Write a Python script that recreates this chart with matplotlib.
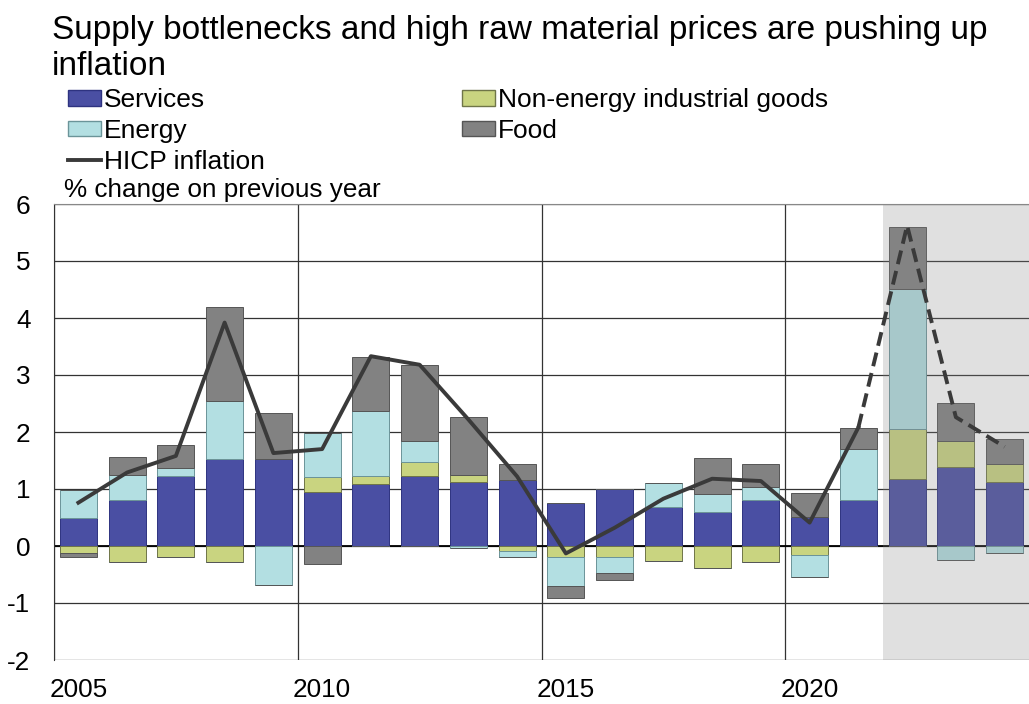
import numpy as np
import matplotlib
matplotlib.use("Agg")
import matplotlib.pyplot as plt
from matplotlib.patches import Patch
from matplotlib.lines import Line2D

plt.rcParams['font.family'] = ['Liberation Sans', 'DejaVu Sans']
plt.rcParams['axes.unicode_minus'] = False

# annual data, % change on previous year
years = np.arange(2005, 2025)
services = [0.49, 0.81, 1.23, 1.52, 1.52, 0.95, 1.09, 1.22, 1.13, 1.16,
            0.75, 1.00, 0.69, 0.59, 0.81, 0.51, 0.80, 1.17, 1.38, 1.13]
neig = [-0.12, -0.28, -0.19, -0.28, 0.00, 0.26, 0.14, 0.25, 0.12, -0.08,
        -0.20, -0.20, -0.26, -0.39, -0.28, -0.15, 0.00, 0.88, 0.47, 0.30]
energy = [0.50, 0.43, 0.14, 1.02, -0.69, 0.78, 1.13, 0.37, -0.04, -0.12,
          -0.50, -0.27, 0.42, 0.32, 0.22, -0.40, 0.90, 2.46, -0.25, -0.13]
food = [-0.07, 0.33, 0.40, 1.66, 0.82, -0.31, 0.96, 1.33, 1.01, 0.27,
        -0.21, -0.12, 0.00, 0.64, 0.41, 0.42, 0.37, 1.09, 0.66, 0.45]
hicp = [0.76, 1.29, 1.58, 3.92, 1.63, 1.70, 3.33, 3.18, 2.22, 1.22,
        -0.13, 0.32, 0.83, 1.18, 1.14, 0.41, 2.08, 5.62, 2.26, 1.74]
tick_years = [2005, 2010, 2015, 2020]
last_actual = 2021
forecast_start = 2022

series = [
    ("Services", services, "#4a4fa3", "#2e3380"),
    ("Non-energy industrial goods", neig, "#c9d480", "#6f7548"),
    ("Energy", energy, "#b3dfe2", "#6b9499"),
    ("Food", food, "#828282", "#555555"),
]

fig = plt.figure(figsize=(10.29, 7.04), dpi=100)
ax = fig.add_axes([54 / 1029, 1 - 660 / 704, 1 - 54 / 1029, (660 - 204) / 704])

x = years + 0.5
pos_base = np.zeros(len(years))
neg_base = np.zeros(len(years))
for name, vals, col, edge in series:
    v = np.array(vals)
    pos = np.where(v > 0, v, 0)
    neg = np.where(v < 0, v, 0)
    ax.bar(x, pos, bottom=pos_base, width=0.76, color=col, edgecolor=edge,
           linewidth=0.7, zorder=2)
    ax.bar(x, neg, bottom=neg_base, width=0.76, color=col, edgecolor=edge,
           linewidth=0.7, zorder=2)
    pos_base += pos
    neg_base += neg

# projection period shading
ax.axvspan(forecast_start, 2025, color="#888888", alpha=0.26, lw=0, zorder=3)

h = np.array(hicp)
solid = years <= last_actual
dash = years >= last_actual
ax.plot(x[solid], h[solid], color="#3a3a3a", lw=2.8, zorder=4)
ax.plot(x[dash], h[dash], color="#3a3a3a", lw=2.8, zorder=4,
        dashes=(3.6, 1.8))

ax.set_xlim(2005, 2025)
ax.set_ylim(-2, 6)
ax.set_yticks(range(-2, 7))
# labels sit in the middle of the year, grid lines at year boundaries
ax.set_xticks([t + 0.5 for t in tick_years])
ax.set_xticklabels([str(t) for t in tick_years])
ax.set_xticks(tick_years, minor=True)
ax.tick_params(axis="both", which="both", length=0, labelsize=18.8)
ax.tick_params(axis="y", pad=17)
ax.tick_params(axis="x", pad=13)
ax.grid(True, axis="y", color="#333333", lw=0.9, zorder=0)
ax.grid(True, axis="x", which="minor", color="#333333", lw=0.9, zorder=0)
ax.set_axisbelow(True)
ax.axhline(0, color="black", lw=1.3, zorder=1)
for s in ["right", "bottom"]:
    ax.spines[s].set_visible(False)
ax.spines["top"].set_color("#888888")
ax.spines["left"].set_color("#333333")

fig.text(52 / 1029, 1 - 15 / 704,
         "Supply bottlenecks and high raw material prices are pushing up\ninflation",
         fontsize=24, va="top", ha="left", linespacing=1.2)
fig.text(64 / 1029, 1 - 190 / 704, "% change on previous year",
         fontsize=18.8, va="center", ha="left")

handles = [
    Patch(facecolor="#4a4fa3", edgecolor="#2e3380", label="Services"),
    Patch(facecolor="#b3dfe2", edgecolor="#6b9499", label="Energy"),
    Line2D([], [], color="#3a3a3a", lw=2.8, label="HICP inflation"),
    Patch(facecolor="#c9d480", edgecolor="#6f7548", label="Non-energy industrial goods"),
    Patch(facecolor="#828282", edgecolor="#555555", label="Food"),
]
fig.legend(handles=handles, ncol=2, loc="upper left",
           bbox_to_anchor=(68 / 1029, 1 - 88 / 704), frameon=False,
           fontsize=19, handlelength=1.25, handleheight=0.55,
           handletextpad=0.1, labelspacing=0.26, columnspacing=7.5,
           borderpad=0, borderaxespad=0)

fig.savefig("out.png", dpi=100)
